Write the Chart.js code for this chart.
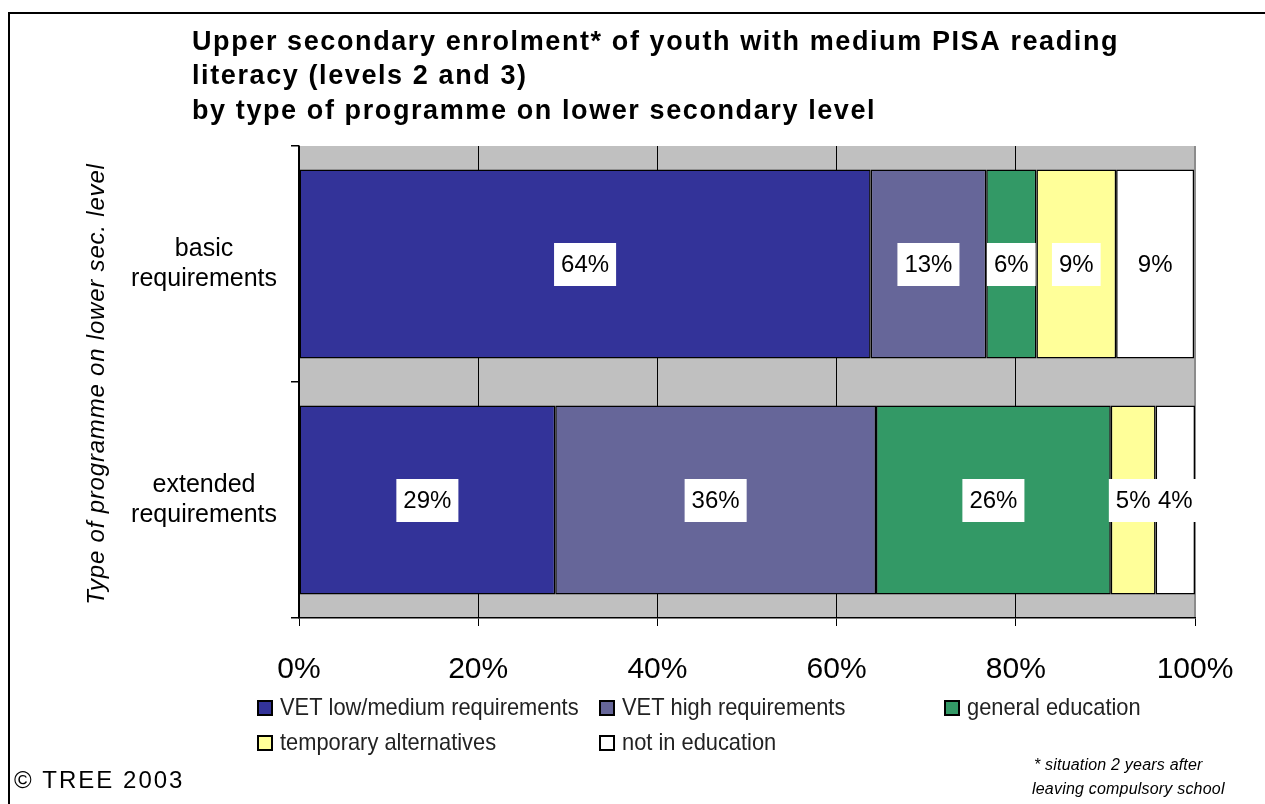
<!DOCTYPE html>
<html>
<head>
<meta charset="utf-8">
<title>Upper secondary enrolment by programme type</title>
<script src="https://cdn.jsdelivr.net/npm/chart.js@4/dist/chart.umd.min.js"></script>
<style>
  body { margin: 0; background: #fff; }
  #wrap { width: 1265px; height: 804px; }
</style>
</head>
<body>
<div id="wrap"><canvas id="chart" width="1265" height="804"></canvas></div>
<script>
// ========== DATA ========== //
const categories = [["basic", "requirements"], ["extended", "requirements"]];
const seriesNames = ["VET low/medium requirements", "VET high requirements", "general education",
                     "temporary alternatives", "not in education"];
const vetLow   = [63.8, 28.6];
const vetHigh  = [12.9, 35.8];
const general  = [5.6, 26.2];
const tempAlt  = [8.9, 5.0];
const notInEdu = [8.7, 4.4];
const xTicks = [0, 20, 40, 60, 80, 100];

const titleLines = ["Upper secondary enrolment* of youth with medium PISA reading",
                    "literacy (levels 2 and 3)",
                    "by type of programme on lower secondary level"];
const yTitle = "Type of programme on lower sec. level";

const colors = ["#333399", "#666699", "#339966", "#ffff99", "#ffffff"];
const values = [vetLow, vetHigh, general, tempAlt, notInEdu];

const FONT = "Arial, 'Liberation Sans', sans-serif";

// ========== PLUGINS ========== //
const backdrop = {
  id: "backdrop",
  beforeDraw(chart) {
    const ctx = chart.ctx, a = chart.chartArea;
    ctx.save();
    ctx.fillStyle = "#fff";
    ctx.fillRect(0, 0, chart.width, chart.height);
    ctx.fillStyle = "#c0c0c0";
    ctx.fillRect(a.left, a.top, a.right - a.left, a.bottom - a.top);
    ctx.strokeStyle = "#8c8c8c";
    ctx.lineWidth = 2;
    ctx.beginPath();
    ctx.moveTo(a.right, a.top);
    ctx.lineTo(a.right, a.bottom);
    ctx.stroke();
    // frame
    ctx.strokeStyle = "#000";
    ctx.lineWidth = 2;
    ctx.beginPath();
    ctx.moveTo(9, chart.height);
    ctx.lineTo(9, 13);
    ctx.lineTo(chart.width, 13);
    ctx.stroke();
    ctx.restore();
  }
};

const barLabels = {
  id: "barLabels",
  afterDatasetsDraw(chart) {
    const ctx = chart.ctx;
    ctx.save();
    ctx.font = "24px " + FONT;
    ctx.textAlign = "center";
    ctx.textBaseline = "middle";
    chart.data.datasets.forEach((ds, i) => {
      chart.getDatasetMeta(i).data.forEach((el, j) => {
        const p = el.getProps(["x", "y", "base"], true);
        const cx = (p.x + p.base) / 2;
        const txt = Math.round(ds.data[j]) + "%";
        const w = ctx.measureText(txt).width + 14;
        ctx.fillStyle = "#fff";
        ctx.fillRect(cx - w / 2, p.y - 21, w, 43);
        ctx.fillStyle = "#000";
        ctx.fillText(txt, cx, p.y + 1);
      });
    });
    ctx.restore();
  }
};

const decorations = {
  id: "decorations",
  afterDraw(chart) {
    const ctx = chart.ctx;
    ctx.save();
    ctx.fillStyle = "#000";
    ctx.textBaseline = "middle";
    ctx.textAlign = "left";

    // title
    ctx.font = "bold 27px " + FONT;
    ctx.letterSpacing = "1.6px";
    const ty = [43, 77, 112];
    titleLines.forEach((t, i) => ctx.fillText(t, 192, ty[i]));

    // y axis title
    ctx.save();
    ctx.translate(97, 384);
    ctx.rotate(-Math.PI / 2);
    ctx.textAlign = "center";
    ctx.font = "italic 24px " + FONT;
    ctx.letterSpacing = "0.8px";
    ctx.fillText(yTitle, 0, 0);
    ctx.restore();

    // legend (condensed look)
    ctx.letterSpacing = "0px";
    const cols = [258, 600, 945], rows = [708, 743];
    ctx.font = "24px " + FONT;
    chart.data.datasets.forEach((ds, i) => {
      const x = cols[i % 3], y = rows[Math.floor(i / 3)];
      ctx.fillStyle = ds.backgroundColor;
      ctx.fillRect(x, y - 7, 14, 14);
      ctx.strokeStyle = "#000";
      ctx.lineWidth = 2;
      ctx.strokeRect(x, y - 7, 14, 14);
      ctx.save();
      ctx.translate(x + 22, y);
      ctx.scale(0.91, 1);
      ctx.fillStyle = "#222";
      ctx.fillText(ds.label, 0, 0);
      ctx.restore();
    });

    // copyright
    ctx.fillStyle = "#000";
    ctx.font = "24px " + FONT;
    ctx.letterSpacing = "2px";
    ctx.fillText("\u00a9 TREE 2003", 14, 781);

    // footnote
    ctx.font = "italic 16px " + FONT;
    ctx.letterSpacing = "0.2px";
    ctx.fillText("* situation 2 years after", 1034, 766);
    ctx.fillText("leaving compulsory school", 1032, 790);
    ctx.restore();
  }
};

// ========== CHART ========== //
new Chart(document.getElementById("chart"), {
  type: "bar",
  data: {
    labels: categories,
    datasets: seriesNames.map((name, i) => ({
      label: name,
      data: values[i],
      backgroundColor: colors[i],
      borderColor: "#000",
      borderWidth: 1.5,
      borderSkipped: false,
      categoryPercentage: 1,
      barPercentage: 0.8
    }))
  },
  options: {
    indexAxis: "y",
    responsive: false,
    animation: false,
    layout: { padding: { left: 82, top: 146, right: 70, bottom: 0 } },
    plugins: {
      legend: { display: false },
      title: { display: false },
      tooltip: { enabled: false }
    },
    scales: {
      x: {
        stacked: true,
        min: 0,
        max: 100,
        afterBuildTicks(scale) { scale.ticks = xTicks.map(v => ({ value: v })); },
        afterFit(scale) { scale.height = 186; },
        ticks: {
          color: "#000",
          padding: 26,
          font: { family: FONT, size: 30 },
          callback: v => v + "%"
        },
        grid: {
          color: ctx => (ctx.tick && ctx.tick.value === 100) ? "rgba(0,0,0,0)" : "#000",
          tickColor: "#000",
          lineWidth: 1,
          tickLength: 8
        },
        border: { color: "#000", width: 1.5 }
      },
      y: {
        stacked: true,
        afterFit(scale) { scale.width = 217; },
        ticks: {
          color: "#000",
          padding: 14,
          crossAlign: "center",
          font: { family: FONT, size: 25, lineHeight: 1.2 }
        },
        grid: {
          offset: true,
          drawOnChartArea: false,
          color: "#000",
          tickLength: 8,
          lineWidth: 1.5
        },
        border: { color: "#000", width: 1.5 }
      }
    }
  },
  plugins: [backdrop, barLabels, decorations]
});
</script>
</body>
</html>
